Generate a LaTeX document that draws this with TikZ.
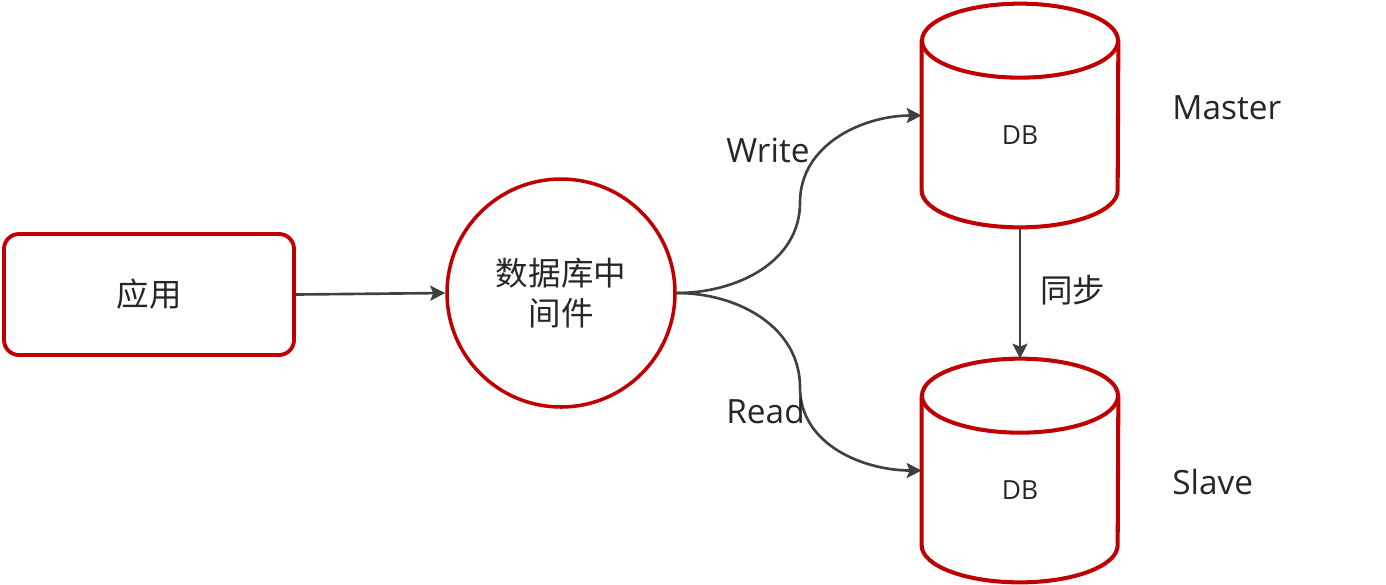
\documentclass[tikz,border=0pt]{standalone}
\usepackage{fontspec}
\setmainfont{Open Sans}
\newfontfamily\cjk{Noto Sans CJK SC}
\usetikzlibrary{positioning,calc,arrows.meta,shapes.geometric}
\definecolor{dbred}{RGB}{192,0,0}
\definecolor{inkgray}{RGB}{64,64,64}
\definecolor{txtgray}{RGB}{38,38,38}
\tikzset{
    % application box (rounded rectangle)
    appbox/.style = {draw=dbred, line width=2.2pt, rounded corners=0.3cm, minimum width=5.8cm, minimum height=2.42cm, text=txtgray, font=\cjk\fontsize{18.5}{23}\selectfont},
    % middleware (circle)
    mwnode/.style = {draw=dbred, line width=2pt, circle, minimum size=4.56cm, inner sep=0, align=center, text=txtgray, font=\cjk\fontsize{18.5}{23}\selectfont},
    % database frame (cylinder is drawn round it)
    dbbox/.style = {rectangle, minimum width=3.92cm, minimum height=4.46cm, inner sep=0},
    % cylinder lines
    dbline/.style = {draw=dbred, line width=2.3pt},
    % text inside the cylinder
    dbtext/.style = {text=txtgray, font=\fontsize{15}{18}\selectfont, inner sep=0},
    % plain labels
    elabel/.style = {text=txtgray, inner sep=0, anchor=west, font=\fontsize{19}{23}\selectfont},
    clabel/.style = {elabel, font=\cjk\fontsize{18.5}{23}\selectfont},
    % connection style (arrows)
    conn/.style = {draw=inkgray, line width=1.5pt, -{Stealth[length=3mm,width=3mm,inset=0.6mm]}}
  }
\begin{document}
\begin{tikzpicture}
\useasboundingbox (0,0) rectangle (27.72,-11.68);

\node [appbox] (app) at (2.98,-5.89) {应用};
\node [mwnode] (mw) at (11.22,-5.86) {数据库中\\间件};

\foreach \n/\y/\ry/\role in {master/-2.31/-2.16/Master,slave/-9.41/-9.64/Slave}{
  \node [dbbox, label={[dbtext,yshift=-0.4cm]center:DB}] (\n) at (20.4,\y) {};
  \draw [dbline] ($(\n.north west)+(0,-0.74)$) -- ($(\n.south west)+(0,0.74)$)
     arc[start angle=180,end angle=360,x radius=1.96cm,y radius=0.74cm] -- ($(\n.north east)+(0,-0.74)$);
  \draw [dbline] ($(\n.north)+(0,-0.74)$) ellipse[x radius=1.96cm,y radius=0.74cm];
  \node [elabel] (\n-role) at (23.44,\ry) {\role};
}

\coordinate (wmid) at (16.0,-4.05);
\coordinate (rmid) at (16.0,-7.75);

\draw [conn] (app.east) -- (mw.west);
\draw [conn] (mw.east) to[out=0,in=-90] (wmid) to[out=90,in=180] (master.west);
\draw [conn] (mw.east) to[out=0,in=90] (rmid) to[out=-90,in=180] (slave.west);
\draw [conn] (master.south) -- (slave.north);

\node [elabel] (wlab) at (14.52,-3.0) {Write};
\node [elabel] (rlab) at (14.52,-8.22) {Read};
\node [clabel] (sync) at (20.8,-5.8) {同步};

\end{tikzpicture}
\end{document}
